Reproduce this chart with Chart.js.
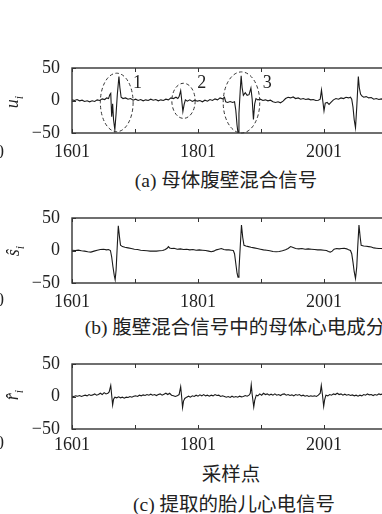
<!doctype html>
<html lang="zh">
<head>
<meta charset="utf-8">
<title>母体腹壁混合信号分解</title>
<style>
  html, body {margin: 0; padding: 0; background: #fff;}
  body {width: 382px; height: 514px; position: relative; overflow: hidden;}
  canvas {position: absolute; left: 0;}
  .txt {position: absolute; transform: translate(-50%, -50%); white-space: nowrap; color: #222; line-height: 1;
        font-family: "Liberation Serif", "Noto Sans CJK SC", serif; font-size: 19.5px;}
  .ylab {position: absolute; transform: translate(-50%, -50%) rotate(-90deg); white-space: nowrap; color: #222; line-height: 1;
         font-family: "Liberation Serif", serif; font-style: italic; font-size: 18px;}
  .ylab sub {font-size: 12px;}
  .frag {position: absolute; left: -5px; transform: translateY(-50%); color: #222; line-height: 1;
         font-family: "Liberation Serif", serif; font-size: 18px;}
</style>
<script src="https://cdn.jsdelivr.net/npm/chart.js@4/dist/chart.umd.min.js"></script>
</head>
<body>

<canvas id="chartA" width="400" height="111" style="top:56px"></canvas>
<canvas id="chartB" width="400" height="111" style="top:206px"></canvas>
<canvas id="chartC" width="400" height="111" style="top:352px"></canvas>

<div class="ylab" style="left:14px; top:102px"><i>u</i><sub>i</sub></div>
<div class="ylab" style="left:15px; top:251px"><i>ŝ</i><sub>i</sub></div>
<div class="ylab" style="left:14px; top:395px"><i>r̂</i><sub>i</sub></div>

<div class="frag" style="top:152px">0</div>
<div class="frag" style="top:300px">0</div>
<div class="frag" style="top:443px">0</div>

<div class="txt" style="left:226px; top:181px">(a) 母体腹壁混合信号</div>
<div class="txt" style="left:235px; top:328px">(b) 腹壁混合信号中的母体心电成分</div>
<div class="txt" style="left:231px; top:475px">采样点</div>
<div class="txt" style="left:234px; top:505px">(c) 提取的胎儿心电信号</div>

<script>
// tick positions (sample index) and y ticks
var xTicks = [1601, 1701, 1801, 1901, 2001, 2101];
var xLabeled = [1601, 1801, 2001];
var yTicks = [-50, 0, 50];

// (a) abdominal mixture u_i
var aX = [1601,1605,1609,1613,1617,1621,1625,1629,1633,1637,1641,1645,1649,1653,1656,1659,1661,1662.5,1664,1665.5,
  1667,1669,1671,1673,1675.5,1677,1679,1682,1686,1690,1694,1698,1702,1706,1710,1714,1718,1722,1726,1730,
  1734,1738,1742,1746,1750,1754,1758,1762,1766,1769,1771,1773.5,1775,1777,1779,1781,1784,1788,1792,1796,
  1800,1804,1808,1812,1816,1820,1824,1828,1832,1836,1840,1843,1845,1848,1852,1856,1859,1861,1863,1864.5,
  1866,1868,1869.5,1871,1873,1876,1879,1882,1885,1887,1889,1891,1893,1896,1900,1904,1908,1912,1916,1920,
  1924,1928,1932,1936,1940,1944,1948,1952,1956,1960,1964,1968,1972,1976,1980,1984,1988,1992,1995,1997,
  1999,2001,2003,2006,2009,2012,2016,2020,2024,2028,2032,2036,2040,2043,2045,2047,2049,2051,2053,2055.5,
  2057,2059,2061,2064,2068,2072,2076,2080,2084,2088,2092,2096,2100];
var aY = [1,0,1.5,-0.5,0.5,-1.5,-0.5,-2,-0.5,-1.5,1,0,2.5,1.5,4,3,9,11,-25,-5,
  -30,-45,-20,10,37,20,5,3,4,2,3,0.5,2,0,1.5,-0.5,1,0,2,0.5,
  1.5,-0.5,1,0,2,1,4,3,5,3,6,15,2,-17,-6,1,-1,1,-1.5,0.5,
  -1,0,-2,0.5,-1,1.5,0,2.5,1,4,2.5,5,-2,-3,-1.5,-3,-2,-15,-38,-50,
  -20,15,38,20,8,12,8,9,19,2,-29,-5,3,1,2,0,1,-0.5,0.5,-2,
  -3,-2,-3.5,-1,3,5,4,5.5,3,4,2,3,1.5,2.5,1,1.5,0,0.5,2,16,
  0,-16,-4,-3,-6,-3,1,3,2,4,3,5,4,5,2,-10,-30,-42,-10,37,
  20,10,7,5,6,4,4.5,2,3,1.5,2.5,1,2];

// (b) maternal component s_i
var bX = [1601,1606,1611,1616,1621,1626,1631,1636,1641,1646,1651,1656,1659,1662,1664,1666,1668,1669.5,1671,1672.5,
  1674.5,1676.5,1678,1681,1685,1690,1695,1700,1705,1710,1715,1720,1725,1730,1735,1740,1745,1749,1752,1754,
  1756,1759,1763,1768,1773,1778,1783,1788,1793,1798,1803,1808,1813,1818,1822,1826,1830,1834,1838,1842,
  1846,1850,1854,1857,1859,1861,1863,1864.5,1866,1868,1870,1872,1874,1877,1881,1885,1890,1895,1900,1905,
  1910,1915,1920,1925,1930,1935,1940,1944,1948,1952,1956,1961,1966,1971,1976,1981,1986,1991,1996,2001,
  2005,2008,2011,2014,2017,2021,2025,2029,2033,2037,2040,2043,2045,2047,2049,2051,2053,2054.5,2056.5,2058.5,
  2060,2064,2068,2072,2076,2080,2084,2088,2092,2096,2100];
var bY = [0.5,0,0.5,-0.5,-1,-2,-2.5,-1,0.5,1.5,2,1,1.5,0,-10,-25,-38,-45,-30,0,
  38,20,8,6,5,4,3,2,1.5,0.5,0,-0.5,-1,-1,-1,-0.5,0,1.5,3.5,6,
  4,3,3.5,2,2.5,1.5,2,1,1.5,0.5,1,0.5,0,-1,-2,-1,1,2,3,1.5,
  1,1,0.5,0,-5,-20,-35,-41,-30,5,39,20,8,7,6,5,4,3,2,1,
  0.5,-0.5,-1.5,-2,-1.5,-0.5,1,3,6,4.5,3,2.5,3,2,2.5,2,1.5,1,1,0.5,
  0,-1.5,-2.5,-1,2,3,2.5,3,3.5,2.5,1,0,-5,-18,-33,-43,-25,5,39,20,
  8,7,6.5,6,5.5,4,3.5,3,3,2.5,2];

// (c) extracted fetal ECG r_i
var cX = [1601,1604,1607,1610,1613,1616,1619,1622,1625,1628,1631,1634,1637,1640,1643,1646,1649,1652,1655,1658,
  1660,1662.5,1664,1665.5,1667,1669,1672,1675,1678,1681,1684,1687,1690,1693,1696,1699,1702,1705,1708,1711,
  1714,1717,1720,1723,1726,1729,1732,1735,1738,1741,1744,1747,1750,1753,1756,1759,1762,1765,1768,1771,
  1773.5,1775,1776.5,1778,1780,1783,1786,1789,1792,1795,1798,1801,1804,1807,1810,1813,1816,1819,1822,1825,
  1828,1831,1834,1837,1840,1843,1846,1849,1852,1855,1858,1861,1864,1867,1870,1873,1876,1879,1882,1884,
  1885.5,1887,1889.5,1891,1893.5,1896,1899,1902,1905,1908,1911,1914,1917,1920,1923,1926,1929,1932,1935,1938,
  1941,1944,1947,1950,1953,1956,1959,1962,1965,1968,1971,1974,1977,1980,1983,1986,1989,1992,1995,1996.7,
  1998.5,2000.5,2002,2004,2007,2010,2013,2016,2019,2022,2025,2028,2031,2034,2037,2040,2043,2046,2049,2052,
  2055,2058,2061,2064,2067,2070,2073,2076,2079,2082,2085,2088,2091,2094,2097,2100];
var cY = [0.5,0,1,0.5,1.5,0,1,2,1,3,1.5,2.5,4,2,3,5,3,6,4,5,
  7,17,2,-13,-4,-1,-2,-0.5,-2,-1,-2.5,-1,-1.5,0,-1,0.5,1,0,2,1,
  2.5,1.5,3,2,3.5,2,3,1.5,3,4,2,3.5,5,3,5,2,1,0,1,3,
  15,0,-17,-7,-3,-1,0.5,-1,1,0,2,0.5,2.5,1,3,1,2,0.5,2,1,
  3,1.5,2,0,1,0,-1,0,-1.5,0.5,-1,0,-1,0.5,-0.5,0,1.5,0.5,2,5,
  18,3,-16,-6,2,1,4,2,5,3,4,2,3.5,2,4,2,3,1.5,3.5,4,
  2,3,1.5,2.5,1,3,2,3,1,2,0.5,1.5,0,1,0.5,1,0,2,5,17,
  3,-15,-5,2,1,3,2,4,3,5,3,4,2,3.5,2,3,1.5,2.5,1,2,
  0.5,2,1,3,2,4,2.5,3,1.5,3,2,4,3,4,2.5,3];

// dashed ellipses on (a): centre x, centre y, half width (samples), half height (units), label
var ellX = [1672, 1778, 1870];
var ellY = [-3, -0.5, -3];
var ellRx = [26, 18.5, 29];
var ellRy = [45, 27, 47];
var ellLabel = ['1', '2', '3'];
var ellLabelX = [1705, 1807, 1911];
var ellLabelY = [27, 27, 27];

var serif = '"Liberation Serif", serif';

// box + inward ticks, matlab style
var boxTicks = {
  id: 'boxTicks',
  afterDraw: function(chart) {
    var ctx = chart.ctx, a = chart.chartArea, x = chart.scales.x, y = chart.scales.y;
    ctx.save();
    ctx.strokeStyle = '#333';
    ctx.lineWidth = 1.4;
    ctx.strokeRect(a.left, a.top, a.right - a.left, a.bottom - a.top);
    ctx.lineWidth = 1;
    ctx.beginPath();
    xTicks.forEach(function(v) {
      var px = Math.round(x.getPixelForValue(v)) + 0.5;
      ctx.moveTo(px, a.bottom); ctx.lineTo(px, a.bottom - 4);
      ctx.moveTo(px, a.top); ctx.lineTo(px, a.top + 4);
    });
    yTicks.forEach(function(v) {
      var py = Math.round(y.getPixelForValue(v)) + 0.5;
      ctx.moveTo(a.left, py); ctx.lineTo(a.left + 4, py);
      ctx.moveTo(a.right, py); ctx.lineTo(a.right - 4, py);
    });
    ctx.stroke();
    ctx.restore();
  }
};

var ellipses = {
  id: 'ellipses',
  afterDatasetsDraw: function(chart) {
    var ctx = chart.ctx, x = chart.scales.x, y = chart.scales.y;
    ctx.save();
    ctx.strokeStyle = '#333';
    ctx.lineWidth = 1;
    ctx.setLineDash([3.5, 2.5]);
    for (var i = 0; i < ellX.length; i++) {
      var cx = x.getPixelForValue(ellX[i]), cy = y.getPixelForValue(ellY[i]);
      var rx = x.getPixelForValue(ellX[i] + ellRx[i]) - cx;
      var ry = cy - y.getPixelForValue(ellY[i] + ellRy[i]);
      ctx.beginPath();
      ctx.ellipse(cx, cy, rx, ry, 0, 0, Math.PI * 2);
      ctx.stroke();
    }
    ctx.setLineDash([]);
    ctx.fillStyle = '#222';
    ctx.font = '18px ' + serif;
    ctx.textAlign = 'center';
    ctx.textBaseline = 'middle';
    for (var j = 0; j < ellLabel.length; j++) {
      ctx.fillText(ellLabel[j], x.getPixelForValue(ellLabelX[j]), y.getPixelForValue(ellLabelY[j]));
    }
    ctx.restore();
  }
};

function makePanel(id, xs, ys, tickPad, extra) {
  var pts = xs.map(function(v, i) { return {x: v, y: ys[i]}; });
  var plugins = [boxTicks];
  if (extra) plugins.push(extra);
  return new Chart(document.getElementById(id), {
    type: 'line',
    data: {datasets: [{data: pts, borderColor: '#1a1a1a', borderWidth: 1.1, pointRadius: 0, tension: 0, fill: false}]},
    options: {
      responsive: false,
      animation: false,
      devicePixelRatio: 1,
      layout: {padding: {top: 12, right: 13, left: 0, bottom: 0}},
      plugins: {legend: {display: false}, tooltip: {enabled: false}},
      scales: {
        x: {
          type: 'linear', min: 1601, max: 2101,
          afterBuildTicks: function(s) { s.ticks = xTicks.map(function(v) { return {value: v}; }); },
          afterFit: function(s) { s.height = 34; s.paddingLeft = 0; s.paddingRight = 0; },
          grid: {display: false, drawTicks: false},
          border: {display: false},
          ticks: {
            autoSkip: false, maxRotation: 0, padding: tickPad, color: '#222',
            font: {family: serif, size: 18},
            callback: function(v) { return xLabeled.indexOf(v) >= 0 ? String(v) : ''; }
          }
        },
        y: {
          min: -50, max: 50,
          afterBuildTicks: function(s) { s.ticks = yTicks.map(function(v) { return {value: v}; }); },
          afterFit: function(s) { s.width = 72; s.paddingTop = 0; s.paddingBottom = 0; },
          grid: {display: false, drawTicks: false},
          border: {display: false},
          ticks: {
            padding: 12, color: '#222',
            font: {family: serif, size: 18},
            callback: function(v) { return v < 0 ? '\u2212' + Math.abs(v) : String(v); }
          }
        }
      }
    },
    plugins: plugins
  });
}

makePanel('chartA', aX, aY, 8, ellipses);
makePanel('chartB', bX, bY, 8);
makePanel('chartC', cX, cY, 5);
</script>
</body>
</html>
